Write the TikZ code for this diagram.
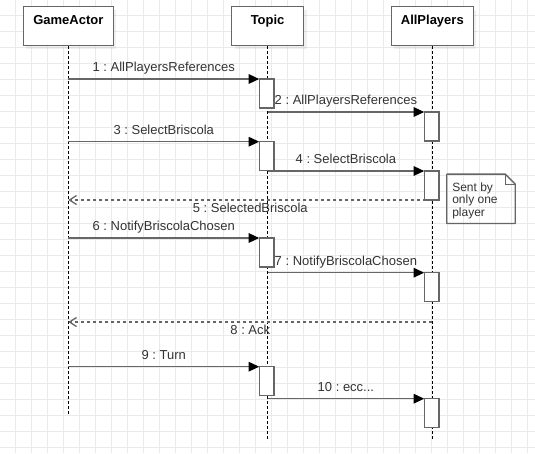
\documentclass[tikz,border=0pt]{standalone}
\usepackage{fontspec}
\setmainfont{Liberation Sans}
\frenchspacing
\usepackage{tikz}
\usetikzlibrary{arrows.meta, positioning, shadows}
\definecolor{linegray}{RGB}{102, 102, 102}
\definecolor{textgray}{RGB}{51, 51, 51}
\definecolor{gridgray}{RGB}{234, 234, 234}

\begin{document}
\begin{tikzpicture}[
    x=1pt, y=-1pt,
    gridline/.style={draw=gridgray, line width=1pt},
    actor/.style={draw=linegray, line width=1.3pt, fill=white,
        minimum width=#1, minimum height=39pt, inner sep=0pt,
        drop shadow={shadow xshift=3pt, shadow yshift=-3pt, fill=black, opacity=0.06}},
    title/.style={font=\fontsize{13}{15}\selectfont\bfseries, inner sep=0pt},
    lifeline/.style={draw=black, line width=0.9pt, dash pattern=on 3pt off 2pt},
    act/.style={draw=linegray, line width=1.3pt, fill=white, anchor=north,
        minimum width=13.5pt, minimum height=27.7pt, inner sep=0pt},
    msg/.style={draw=linegray, line width=1.3pt,
        -{Triangle[length=10.5pt, width=9.5pt, black]}},
    ret/.style={draw=linegray, line width=1.3pt, dash pattern=on 3pt off 3pt,
        -{Straight Barb[length=7pt, width=9pt]}},
    lbl/.style={font=\fontsize{13}{15}\selectfont, text=textgray, inner sep=2pt,
        text height=9.5pt, text depth=2.7pt},
    notebox/.style={minimum width=68pt, minimum height=49pt, inner sep=0pt},
    notetext/.style={font=\fontsize{12}{12.3}\selectfont, text=textgray, align=left,
        inner sep=0pt}
]
    \useasboundingbox (0,0) rectangle (535,453);
    \fill[white] (0,0) rectangle (535,453);

    % background grid
    \foreach \g in {1,...,33}
        \draw[gridline] ({\g*16-0.7},0) -- ({\g*16-0.7},453);
    \foreach \g in {1,...,28}
        \draw[gridline] (0,{\g*16-0.7}) -- (535,{\g*16-0.7});

    % participants
    \node[actor=90pt] (ga) at (68.3,26.2) {};
    \node[actor=72pt] (tp) at (267.6,26.2) {};
    \node[actor=82pt] (ap) at (432.3,26.2) {};
    \node[title, anchor=north] (gatitle) at ([yshift=-9pt]ga.north) {GameActor};
    \node[title, anchor=north] (tptitle) at ([yshift=-9pt]tp.north) {Topic};
    \node[title, anchor=north] (aptitle) at ([yshift=-9pt]ap.north) {AllPlayers};

    \coordinate (gaend) at (68.3,414.3);
    \coordinate (tpend) at (267.6,440);
    \coordinate (apend) at (432.3,440);
    \draw[lifeline] (ga.south) -- (gaend);
    \draw[lifeline] (tp.south) -- (tpend);
    \draw[lifeline] (ap.south) -- (apend);

    % activations
    \node[act] (ta1) at (266.6,79) {};
    \node[act] (pa1) at (431.6,112) {};
    \node[act] (ta2) at (266.6,141.7) {};
    \node[act] (pa2) at (431.6,171) {};
    \node[act] (ta3) at (266.6,238) {};
    \node[act] (pa3) at (431.6,272.7) {};
    \node[act] (ta4) at (266.6,366.7) {};
    \node[act] (pa4) at (431.6,398.7) {};

    % messages
    \draw[msg] (ga |- ta1.north) -- node[lbl, above=2.2pt] {1 : AllPlayersReferences} (ta1.north west);
    \draw[msg] (tp |- pa1.north) -- node[lbl, above=2.2pt] {2 : AllPlayersReferences} (pa1.north west);
    \draw[msg] (ga |- ta2.north) -- node[lbl, above=2.2pt] {3 : SelectBriscola} (ta2.north west);
    \draw[msg] (tp |- pa2.north) -- node[lbl, above=2.2pt] {4 : SelectBriscola} (pa2.north west);
    \draw[ret] (ap |- pa2.south) -- node[lbl, below=0.8pt] {5 : SelectedBriscola} (ga |- pa2.south);
    \draw[msg] (ga |- ta3.north) -- node[lbl, above=2.2pt] {6 : NotifyBriscolaChosen} (ta3.north west);
    \draw[msg] (tp |- pa3.north) -- node[lbl, above=2.2pt] {7 : NotifyBriscolaChosen} (pa3.north west);
    \coordinate (ack) at (432.3,322);
    \draw[ret] (ack) -- node[lbl, below=0.8pt] {8 : Ack} (ga |- ack);
    \draw[msg] (ga |- ta4.north) -- node[lbl, above=2.2pt] {9 : Turn} (ta4.north west);
    \draw[msg] (tp |- pa4.north) -- node[lbl, above=2.2pt] {10 : ecc...} (pa4.north west);

    % activations drawn over the lines
    \foreach \a in {ta1,pa1,ta2,pa2,ta3,pa3,ta4,pa4}
        \draw[draw=linegray, line width=1.3pt, fill=white] (\a.north west) rectangle (\a.south east);

    % note
    \node[notebox] (note) at (481,198.8) {};
    \draw[linegray, line width=1.3pt, line join=round]
        (note.north west) -- ([xshift=-10pt]note.north east) -- ([yshift=-10pt]note.north east)
        -- (note.south east) -- (note.south west) -- cycle;
    \draw[linegray, line width=0.8pt]
        ([xshift=-10pt]note.north east) -- ([xshift=-10pt, yshift=-10pt]note.north east)
        -- ([yshift=-10pt]note.north east);
    \node[notetext, anchor=west] (notetext) at ([xshift=5.3pt, yshift=-2pt]note.west)
        {Sent by\\only one\\player};
\end{tikzpicture}
\end{document}
